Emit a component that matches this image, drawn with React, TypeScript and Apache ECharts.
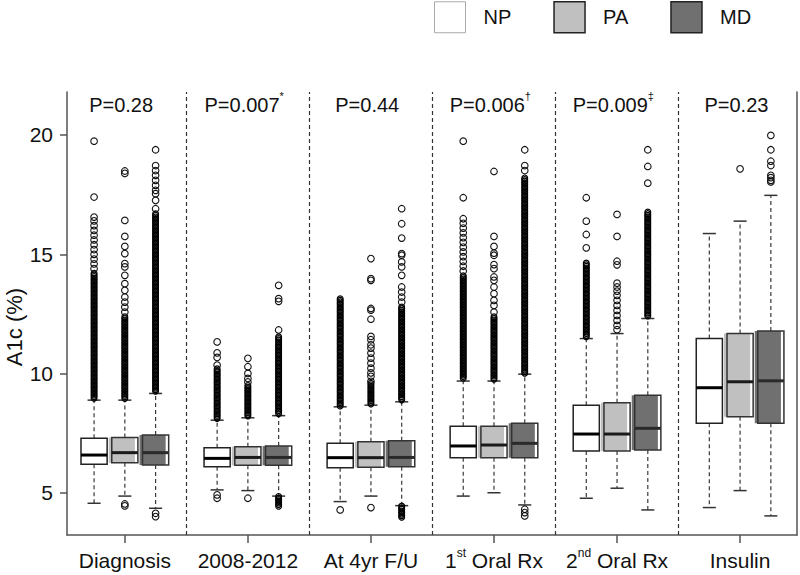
import React, { useEffect, useRef } from "react";
import * as echarts from "echarts";

// ---------- data ----------
const groups = [
  "{n|Diagnosis}",
  "{n|2008-2012}",
  "{n|At 4yr F/U}",
  "{n|1}{sup|st}{n| Oral Rx}",
  "{n|2}{sup|nd}{n| Oral Rx}",
  "{n|Insulin}",
];
const pLabels = [
  "{n|P=0.28}",
  "{n|P=0.007}{sup|*}",
  "{n|P=0.44}",
  "{n|P=0.006}{sup|†}",
  "{n|P=0.009}{sup|‡}",
  "{n|P=0.23}",
];
const seriesNames = ["NP", "PA", "MD"];
const yTicks = [5, 10, 15, 20];

// [lower whisker, Q1, median, Q3, upper whisker] per group
const npBoxes = [
  [4.57, 6.2, 6.59, 7.29, 8.89],
  [5.13, 6.1, 6.45, 6.9, 8.05],
  [4.64, 6.06, 6.48, 7.08, 8.61],
  [4.87, 6.48, 6.97, 7.8, 9.69],
  [4.78, 6.76, 7.47, 8.68, 11.47],
  [4.39, 7.92, 9.41, 11.47, 15.87],
];
const paBoxes = [
  [4.87, 6.27, 6.69, 7.33, 8.89],
  [5.1, 6.16, 6.49, 6.94, 8.15],
  [4.87, 6.08, 6.48, 7.15, 8.68],
  [5.01, 6.48, 7.01, 7.8, 9.69],
  [5.2, 6.76, 7.47, 8.78, 11.68],
  [5.1, 8.19, 9.66, 11.68, 16.39],
];
const mdBoxes = [
  [4.36, 6.17, 6.69, 7.43, 9.17],
  [4.87, 6.16, 6.49, 6.97, 8.24],
  [4.47, 6.1, 6.49, 7.19, 8.82],
  [4.5, 6.48, 7.08, 7.92, 9.98],
  [4.29, 6.8, 7.71, 9.09, 12.31],
  [4.04, 7.92, 9.7, 11.79, 17.47],
];

// individual outliers per group
const npOutliers = [
  [19.74, 17.4, 16.56, 16.4, 16.2, 16.0, 15.8, 15.6, 15.4, 15.2, 15.0, 14.8, 14.6, 14.4],
  [11.33, 10.87, 10.68, 10.36, 4.92, 4.78],
  [4.29],
  [19.74, 17.37, 16.49, 16.3, 16.1, 15.9, 15.7, 15.5, 15.3, 15.1, 14.9, 14.7, 14.5, 14.3],
  [17.37, 16.39, 15.83, 15.27],
  [],
];
const paOutliers = [
  [18.49, 18.39, 16.42, 15.75, 15.33, 15.03, 14.61, 14.47, 14.12, 13.77, 13.49, 13.21, 13.0, 12.79, 12.58, 4.54, 4.46],
  [10.64, 10.29, 10.01, 9.8, 9.65, 4.78],
  [14.82, 13.98, 13.91, 12.73, 12.66, 12.28, 11.56, 11.42, 11.21, 11.07, 10.86, 10.65, 10.44, 10.23, 10.03, 9.89, 9.68, 4.39],
  [18.47, 15.75, 15.33, 15.05, 14.96, 14.57, 14.4, 14.05, 13.91, 13.63, 13.35, 13.07, 12.86, 12.58],
  [16.67, 15.75, 14.71, 14.56, 13.79, 13.63, 13.46, 13.28, 13.07, 12.86, 12.65, 12.44, 12.23, 12.02, 11.84],
  [18.58],
];
const mdOutliers = [
  [19.38, 18.72, 18.51, 18.31, 18.1, 17.89, 17.68, 17.54, 17.26, 16.91, 4.15, 4.01],
  [13.7, 13.14, 13.03, 11.83],
  [16.91, 16.28, 15.68, 15.03, 14.96, 14.68, 14.47, 14.12, 13.63, 13.42, 13.21, 13.0],
  [19.38, 18.72, 18.51, 4.32, 4.18, 4.04],
  [19.38, 18.68, 17.98],
  [19.98, 19.38, 18.9, 18.72, 18.31, 18.21, 18.1, 18.03],
];

// densely packed outlier runs [from, to] per group
const npDense = [[[8.95, 14.2]], [[8.1, 10.2]], [[8.62, 13.14]], [[9.75, 14.1]], [[11.5, 14.63]], []];
const paDense = [[[8.95, 12.38]], [[8.2, 9.5]], [[8.72, 9.6]], [[9.75, 12.38]], [], []];
const mdDense = [
  [[9.2, 16.7]],
  [[8.3, 11.54], [4.39, 4.85]],
  [[8.85, 12.79], [3.97, 4.45]],
  [[10.02, 18.2]],
  [[12.35, 16.77]],
  [],
];

// ---------- styling ----------
const FONT = "'Liberation Sans', Arial, sans-serif";
const TXT = "#111";
const AXIS = "#555";
const BOX_W = 0.85;
const fills = ["#ffffff", "#c0c0c0", "#707070"];
const borders = ["#222", "#333", "#333"];
const medians = ["#000", "#1a1a1a", "#2a2a2a"];
const shifts = [0, 3, 3];

const xPos = (g: number, s: number) => g * 4 + 1 + s;

const boxRender = (s: number) => (_params: any, api: any) => {
  const x = api.value(0);
  const pLo = api.coord([x, api.value(1)]);
  const pQ1 = api.coord([x, api.value(2)]);
  const pMed = api.coord([x, api.value(3)]);
  const pQ3 = api.coord([x, api.value(4)]);
  const pHi = api.coord([x, api.value(5)]);
  const w = api.size([BOX_W, 0])[0];
  const cx = pLo[0];
  const left = cx - w / 2;
  const capHalf = w / 4;
  const dash = { stroke: "#3a3a3a", lineWidth: 1.2, lineDash: [4, 3] };
  const cap = { stroke: "#333", lineWidth: 1.5 };
  return {
    type: "group",
    children: [
      { type: "line", shape: { x1: cx, y1: pQ3[1], x2: cx, y2: pHi[1] }, style: dash },
      { type: "line", shape: { x1: cx, y1: pQ1[1], x2: cx, y2: pLo[1] }, style: dash },
      { type: "line", shape: { x1: cx - capHalf, y1: pHi[1], x2: cx + capHalf, y2: pHi[1] }, style: cap },
      { type: "line", shape: { x1: cx - capHalf, y1: pLo[1], x2: cx + capHalf, y2: pLo[1] }, style: cap },
      { type: "rect", shape: { x: left, y: pQ3[1], width: w, height: pQ1[1] - pQ3[1] }, style: { fill: "#fff" } },
      {
        type: "rect",
        shape: { x: left - shifts[s], y: pQ3[1], width: w, height: pQ1[1] - pQ3[1] },
        style: { fill: fills[s] },
      },
      {
        type: "rect",
        shape: { x: left, y: pQ3[1], width: w, height: pQ1[1] - pQ3[1] },
        style: { fill: "none", stroke: borders[s], lineWidth: 1.5 },
      },
      {
        type: "line",
        shape: { x1: left, y1: pMed[1], x2: left + w, y2: pMed[1] },
        style: { stroke: medians[s], lineWidth: 3 },
      },
    ],
  };
};

const denseRender = (_params: any, api: any) => {
  const x = api.value(0);
  const top = api.coord([x, api.value(2)]);
  const bot = api.coord([x, api.value(1)]);
  const children: any[] = [];
  for (let y = top[1]; y <= bot[1] + 0.01; y += 1.6) {
    children.push({
      type: "circle",
      shape: { cx: top[0], cy: y, r: 2.9 },
      style: { fill: "none", stroke: "#000", lineWidth: 1.2 },
    });
  }
  return { type: "group", children };
};

const rich = {
  n: { fontSize: 20, fontFamily: FONT, fill: TXT, lineHeight: 24, verticalAlign: "bottom" },
  sup: { fontSize: 11, fontFamily: FONT, fill: TXT, lineHeight: 12, verticalAlign: "top" },
};

const labelRender = (params: any, api: any) => {
  const p = api.coord([api.value(0), api.value(1)]);
  return {
    type: "text",
    x: p[0],
    y: p[1],
    style: {
      text: pLabels[params.dataIndex],
      align: "center",
      verticalAlign: "middle",
      fill: TXT,
      rich,
    },
  };
};

export default function App() {
  const ref = useRef<HTMLDivElement>(null);

  useEffect(() => {
    if (!ref.current) return;
    const chart = echarts.init(ref.current, undefined, { renderer: "svg" });

    const allBoxes = [npBoxes, paBoxes, mdBoxes];
    const allOut = [npOutliers, paOutliers, mdOutliers];
    const allDense = [npDense, paDense, mdDense];

    const series: any[] = [];
    seriesNames.forEach((name, s) => {
      series.push({
        name,
        type: "custom",
        renderItem: boxRender(s),
        encode: { x: 0, y: [1, 2, 3, 4, 5] },
        data: allBoxes[s].map((b, g) => [xPos(g, s), ...b]),
        z: 2,
      });
      const dense: number[][] = [];
      allDense[s].forEach((runs, g) => runs.forEach((r) => dense.push([xPos(g, s), r[0], r[1]])));
      series.push({
        name,
        type: "custom",
        renderItem: denseRender,
        encode: { x: 0, y: [1, 2] },
        data: dense,
        z: 3,
      });
      const pts: number[][] = [];
      allOut[s].forEach((vals, g) => vals.forEach((v) => pts.push([xPos(g, s), v])));
      series.push({
        name,
        type: "scatter",
        symbol: "circle",
        symbolSize: 6.6,
        itemStyle: { color: "rgba(255,255,255,0)", borderColor: "#111", borderWidth: 1.1, opacity: 1 },
        data: pts,
        z: 3,
      });
    });

    // P-value labels + group separators
    series.push({
      type: "custom",
      silent: true,
      renderItem: labelRender,
      encode: { x: 0, y: 1 },
      data: pLabels.map((_, g) => [g * 4 + 2 - 0.12, 21.36]),
      markLine: {
        silent: true,
        symbol: "none",
        label: { show: false },
        lineStyle: { type: [4, 3], color: "#333", width: 1.2 },
        data: [4, 8, 12, 16, 20].map((v) => ({ xAxis: v })),
      },
    });

    chart.setOption({
      animation: false,
      backgroundColor: "#fff",
      textStyle: { fontFamily: FONT },
      grid: { left: 67, right: 3, top: 92, bottom: 40 },
      legend: {
        left: 434,
        top: 1,
        padding: 0,
        icon: "rect",
        itemWidth: 31,
        itemHeight: 31,
        itemGap: 42,
        selectedMode: false,
        textStyle: { fontSize: 20, fontFamily: FONT, color: TXT, padding: [0, 0, 0, 13], width: 40 },
        data: [
          { name: "NP", itemStyle: { color: "#ffffff", borderColor: "#aaa", borderWidth: 1 } },
          { name: "PA", itemStyle: { color: "#c0c0c0", borderColor: "#222", borderWidth: 1.5 } },
          { name: "MD", itemStyle: { color: "#707070", borderColor: "#222", borderWidth: 1.5 } },
        ],
      },
      xAxis: {
        type: "value",
        min: 0.12,
        max: 23.85,
        splitLine: { show: false },
        axisLine: { show: true, lineStyle: { color: AXIS, width: 1.5 } },
        axisTick: { show: true, length: 8, lineStyle: { color: AXIS, width: 1.5 }, customValues: [2, 6, 10, 14, 18, 22] },
        axisLabel: {
          customValues: [2, 6, 10, 14, 18, 22],
          margin: 12,
          color: TXT,
          formatter: (v: number) => groups[Math.round((v - 2) / 4)],
          rich: {
            n: { fontSize: 21, fontFamily: FONT, color: TXT, lineHeight: 24, verticalAlign: "bottom" },
            sup: { fontSize: 12, fontFamily: FONT, color: TXT, lineHeight: 12, verticalAlign: "top" },
          },
        },
      },
      yAxis: [
        {
          type: "value",
          min: 3.24,
          max: 21.8,
          splitLine: { show: false },
          axisLine: { show: true, lineStyle: { color: AXIS, width: 1.5 } },
          axisTick: { show: true, length: 7, lineStyle: { color: AXIS, width: 1.5 }, customValues: yTicks },
          axisLabel: { customValues: yTicks, margin: 14, fontSize: 21, fontFamily: FONT, color: TXT },
        },
        {
          type: "value",
          position: "right",
          min: 3.24,
          max: 21.8,
          splitLine: { show: false },
          axisLine: { show: true, lineStyle: { color: AXIS, width: 1.5 } },
          axisTick: { show: false },
          axisLabel: { show: false },
        },
      ],
      graphic: [
        {
          type: "text",
          x: 14,
          y: 327,
          rotation: Math.PI / 2,
          style: {
            text: "A1c (%)",
            fontSize: 22,
            fontFamily: FONT,
            fill: TXT,
            align: "center",
            verticalAlign: "middle",
          },
        },
      ],
      series,
    });

    return () => chart.dispose();
  }, []);

  return (
    <div
      ref={ref}
      style={{ position: "absolute", left: 0, top: 0, width: 800, height: 575, background: "#fff" }}
    />
  );
}
